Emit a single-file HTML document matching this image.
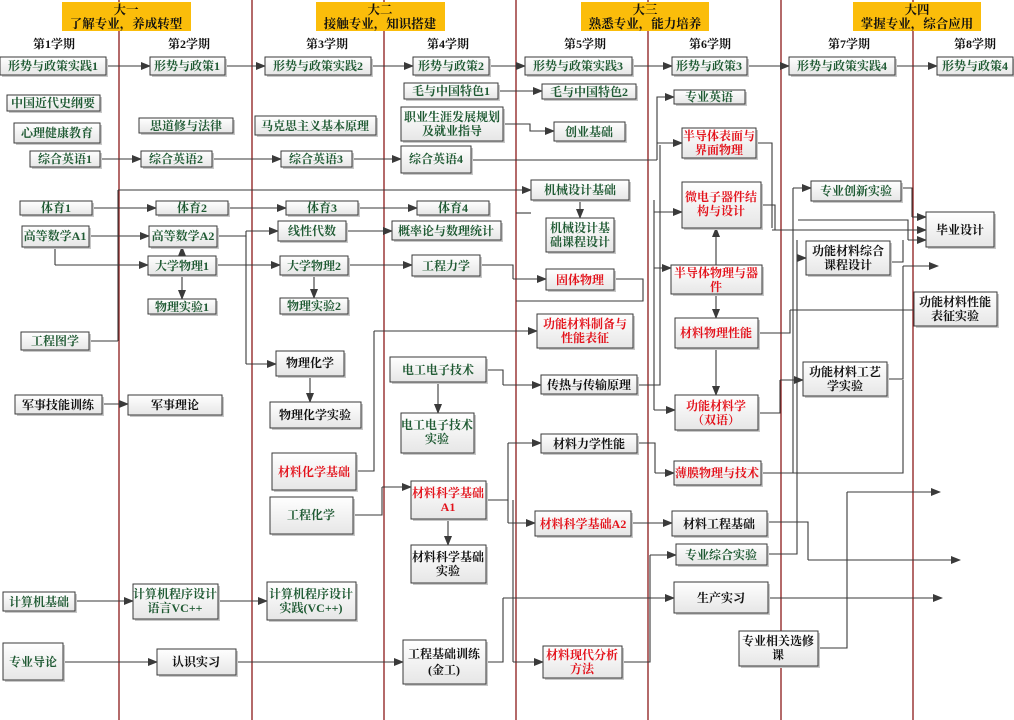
<!DOCTYPE html>
<html><head><meta charset="utf-8"><style>
html,body{margin:0;padding:0;background:#fff;width:1014px;height:720px;overflow:hidden}
svg{display:block}
text{font-family:"Liberation Serif","Noto Serif CJK SC",serif;font-weight:bold;font-size:12px;text-anchor:middle}
.g{fill:#1f5a33}.r{fill:#e3121b}.k{fill:#111}
.b{fill:url(#gr);stroke:#3a3a3a;stroke-width:1}
.sh{fill:#c8c8c8}
.l{fill:none;stroke:#3a3a3a;stroke-width:1.1}
.a{fill:none;stroke:#3a3a3a;stroke-width:1.1;marker-end:url(#ar)}
.v{stroke:#8b1a1a;stroke-width:1.3}
.h{fill:#fbbd0a}
.hd{font-size:12.5px}
</style></head><body>
<svg width="1014" height="720" viewBox="0 0 1014 720">
<defs>
<linearGradient id="gr" x1="0" y1="0" x2="0" y2="1"><stop offset="0" stop-color="#ffffff"/><stop offset="1" stop-color="#e6e6e6"/></linearGradient>
<marker id="ar" markerWidth="10" markerHeight="8" refX="9" refY="4" orient="auto" markerUnits="userSpaceOnUse"><path d="M0,0 L10,4 L0,8 Z" fill="#3a3a3a"/></marker>
</defs>
<g class="v">
<line x1="119" y1="0" x2="119" y2="720"/><line x1="252" y1="0" x2="252" y2="720"/>
<line x1="384" y1="0" x2="384" y2="720"/><line x1="516" y1="0" x2="516" y2="720"/>
<line x1="648" y1="0" x2="648" y2="720"/><line x1="781" y1="0" x2="781" y2="720"/>
<line x1="913" y1="0" x2="913" y2="720"/>
</g>
<rect class="h" x="62" y="2" width="129" height="29"/><text class="k hd" x="126" y="14">大一</text><text class="k hd" x="126" y="28">了解专业，养成转型</text>
<rect class="h" x="316" y="2" width="129" height="29"/><text class="k hd" x="380" y="14">大二</text><text class="k hd" x="380" y="28">接触专业，知识搭建</text>
<rect class="h" x="581" y="2" width="128" height="29"/><text class="k hd" x="645" y="14">大三</text><text class="k hd" x="645" y="28">熟悉专业，能力培养</text>
<rect class="h" x="853" y="2" width="128" height="29"/><text class="k hd" x="917" y="14">大四</text><text class="k hd" x="917" y="28">掌握专业，综合应用</text>
<g class="k">
<text x="54" y="48">第1学期</text><text x="189" y="48">第2学期</text><text x="327" y="48">第3学期</text><text x="448" y="48">第4学期</text>
<text x="585" y="48">第5学期</text><text x="710" y="48">第6学期</text><text x="849" y="48">第7学期</text><text x="975" y="48">第8学期</text>
</g>
<g>
<path class="a" d="M106,66H150"/><path class="a" d="M225,66H265"/><path class="a" d="M371,66H413"/><path class="a" d="M489,66H525"/>
<path class="a" d="M632,66H672"/><path class="a" d="M747,66H789"/><path class="a" d="M895,66H937"/>
<path class="a" d="M498,91H542"/>
<path class="a" d="M503,124H530V131H554"/>
<path class="a" d="M100,159H141"/><path class="a" d="M212,159H281"/><path class="a" d="M352,159H401"/>
<path class="l" d="M471,160H657"/><path class="a" d="M657,160V97H674"/><path class="a" d="M657,143H682"/>
<path class="l" d="M118,341V190"/><path class="l" d="M89,341H118"/><path class="a" d="M118,190H531"/>
<path class="a" d="M92,208H156"/><path class="a" d="M228,208H286"/><path class="a" d="M358,208H417"/>
<path class="a" d="M89,236H149"/><path class="l" d="M217,236H246V231"/><path class="a" d="M246,231H278"/><path class="a" d="M346,231H392"/>
<path class="l" d="M55,247V265"/><path class="a" d="M55,265H148"/>
<path class="a" d="M182,256V247"/><path class="a" d="M182,275V299"/>
<path class="a" d="M216,265H280"/><path class="a" d="M314,275V298"/><path class="a" d="M348,265H412"/>
<path class="l" d="M246,236V364"/><path class="a" d="M246,364H276"/><path class="a" d="M310,376V402"/>
<path class="l" d="M480,265H513V279"/><path class="a" d="M513,279H546"/>
<path class="l" d="M614,279H643V301H516"/>
<path class="a" d="M580,200V218"/>
<path class="l" d="M531,213H516"/>
<path class="a" d="M102,404H128"/>
<path class="l" d="M356,471H374V331"/><path class="a" d="M374,331H537"/>
<path class="a" d="M438,382V413"/>
<path class="l" d="M486,370H503V385"/><path class="a" d="M503,385H541"/>
<path class="l" d="M637,385H660V145"/>
<path class="l" d="M353,515H382V487"/><path class="a" d="M382,487H411"/>
<path class="a" d="M448,519V545"/>
<path class="l" d="M486,500H508V443"/><path class="a" d="M508,443H541"/>
<path class="l" d="M508,500V523"/><path class="a" d="M508,523H535"/>
<path class="l" d="M513,500V662"/><path class="a" d="M513,662H543"/>
<path class="a" d="M75,601H133"/><path class="a" d="M218,601H267"/>
<path class="a" d="M63,662H157"/><path class="a" d="M236,662H403"/>
<path class="l" d="M486,662H503V598"/><path class="a" d="M503,598H674"/>
<path class="a" d="M768,598H942"/>
<path class="l" d="M818,648H847V492"/><path class="a" d="M847,492H940"/>
<path class="l" d="M767,522H808V560"/><path class="a" d="M808,560H960"/>
<path class="l" d="M767,554H797V240"/>
<path class="l" d="M622,662H650V555"/><path class="a" d="M650,555H676"/>
<path class="l" d="M637,443H655V473"/><path class="a" d="M655,473H674"/>
<path class="a" d="M631,523H672"/>
<path class="a" d="M716,265V228"/><path class="a" d="M716,294V318"/><path class="a" d="M716,348V395"/>
<path class="l" d="M654,200V410"/><path class="a" d="M654,410H675"/>
<path class="a" d="M654,212H682"/><path class="a" d="M654,268H671"/>
<path class="l" d="M756,143H772V228"/><path class="l" d="M761,205H775V230"/><path class="a" d="M772,230H926"/>
<path class="l" d="M761,473H793V188"/>
<path class="l" d="M758,333H790V310"/><path class="a" d="M790,310H925"/>
<path class="l" d="M758,413H780V380"/><path class="a" d="M780,380H803"/>
<path class="a" d="M793,188H811"/>
<path class="l" d="M901,188H912V217"/><path class="a" d="M912,217H926"/>
<path class="l" d="M798,220H908V240"/><path class="a" d="M908,240H926"/>
<path class="a" d="M797,258H806"/>
<path class="l" d="M890,262H903V240"/><path class="a" d="M903,266H938"/>
<path class="l" d="M887,379H903V266"/>
<path class="l" d="M761,473H903V380"/>
</g>
<g id="boxes">
<rect class="sh" x="2" y="59" width="106" height="18"/><rect class="b" x="0" y="57" width="106" height="18"/><text class="g" x="53" y="70">形势与政策实践1</text>
<rect class="sh" x="152" y="59" width="75" height="18"/><rect class="b" x="150" y="57" width="75" height="18"/><text class="g" x="187" y="70">形势与政策1</text>
<rect class="sh" x="267" y="59" width="106" height="18"/><rect class="b" x="265" y="57" width="106" height="18"/><text class="g" x="318" y="70">形势与政策实践2</text>
<rect class="sh" x="415" y="59" width="76" height="18"/><rect class="b" x="413" y="57" width="76" height="18"/><text class="g" x="451" y="70">形势与政策2</text>
<rect class="sh" x="527" y="59" width="107" height="18"/><rect class="b" x="525" y="57" width="107" height="18"/><text class="g" x="578" y="70">形势与政策实践3</text>
<rect class="sh" x="674" y="59" width="75" height="18"/><rect class="b" x="672" y="57" width="75" height="18"/><text class="g" x="709" y="70">形势与政策3</text>
<rect class="sh" x="791" y="59" width="106" height="18"/><rect class="b" x="789" y="57" width="106" height="18"/><text class="g" x="842" y="70">形势与政策实践4</text>
<rect class="sh" x="939" y="59" width="75" height="18"/><rect class="b" x="937" y="57" width="76" height="18"/><text class="g" x="975" y="70">形势与政策4</text>

<rect class="sh" x="9" y="97" width="93" height="16"/><rect class="b" x="7" y="95" width="93" height="16"/><text class="g" x="53" y="107">中国近代史纲要</text>
<rect class="sh" x="16" y="125" width="86" height="20"/><rect class="b" x="14" y="123" width="86" height="20"/><text class="g" x="57" y="137">心理健康教育</text>
<rect class="sh" x="32" y="153" width="70" height="16"/><rect class="b" x="30" y="151" width="70" height="16"/><text class="g" x="65" y="163">综合英语1</text>
<rect class="sh" x="141" y="120" width="94" height="15"/><rect class="b" x="139" y="118" width="94" height="15"/><text class="g" x="186" y="130">思道修与法律</text>
<rect class="sh" x="143" y="153" width="71" height="16"/><rect class="b" x="141" y="151" width="71" height="16"/><text class="g" x="176" y="163">综合英语2</text>
<rect class="sh" x="257" y="118" width="121" height="19"/><rect class="b" x="255" y="116" width="121" height="19"/><text class="g" x="315" y="130">马克思主义基本原理</text>
<rect class="sh" x="283" y="153" width="71" height="16"/><rect class="b" x="281" y="151" width="71" height="16"/><text class="g" x="316" y="163">综合英语3</text>
<rect class="sh" x="406" y="85" width="94" height="16"/><rect class="b" x="404" y="83" width="94" height="16"/><text class="g" x="451" y="95">毛与中国特色1</text>
<rect class="sh" x="403" y="109" width="102" height="34"/><rect class="b" x="401" y="107" width="102" height="34"/><text class="g" x="452" y="121">职业生涯发展规划</text><text class="g" x="452" y="135">及就业指导</text>
<rect class="sh" x="403" y="148" width="70" height="27"/><rect class="b" x="401" y="146" width="70" height="27"/><text class="g" x="436" y="163">综合英语4</text>
<rect class="sh" x="544" y="86" width="94" height="15"/><rect class="b" x="542" y="84" width="94" height="15"/><text class="g" x="589" y="96">毛与中国特色2</text>
<rect class="sh" x="676" y="92" width="71" height="14"/><rect class="b" x="674" y="90" width="71" height="14"/><text class="g" x="709" y="101">专业英语</text>
<rect class="sh" x="556" y="124" width="71" height="19"/><rect class="b" x="554" y="122" width="71" height="19"/><text class="g" x="589" y="136">创业基础</text>
<rect class="sh" x="684" y="130" width="74" height="30"/><rect class="b" x="682" y="128" width="74" height="30"/><text class="r" x="719" y="140">半导体表面与</text><text class="r" x="719" y="154">界面物理</text>
<rect class="sh" x="533" y="182" width="98" height="20"/><rect class="b" x="531" y="180" width="98" height="20"/><text class="g" x="580" y="194">机械设计基础</text>
<rect class="sh" x="684" y="184" width="79" height="46"/><rect class="b" x="682" y="182" width="79" height="46"/><text class="r" x="721" y="201">微电子器件结</text><text class="r" x="721" y="215">构与设计</text>
<rect class="sh" x="813" y="183" width="90" height="20"/><rect class="b" x="811" y="181" width="90" height="20"/><text class="g" x="856" y="195">专业创新实验</text>
<rect class="sh" x="928" y="214" width="68" height="35"/><rect class="b" x="926" y="212" width="68" height="35"/><text class="k" x="960" y="234">毕业设计</text>

<rect class="sh" x="22" y="203" width="72" height="14"/><rect class="b" x="20" y="201" width="72" height="14"/><text class="g" x="56" y="212">体育1</text>
<rect class="sh" x="158" y="203" width="72" height="14"/><rect class="b" x="156" y="201" width="72" height="14"/><text class="g" x="192" y="212">体育2</text>
<rect class="sh" x="288" y="203" width="72" height="14"/><rect class="b" x="286" y="201" width="72" height="14"/><text class="g" x="322" y="212">体育3</text>
<rect class="sh" x="419" y="203" width="72" height="14"/><rect class="b" x="417" y="201" width="72" height="14"/><text class="g" x="453" y="212">体育4</text>
<rect class="sh" x="24" y="228" width="67" height="21"/><rect class="b" x="22" y="226" width="67" height="21"/><text class="g" x="55" y="240">高等数学A1</text>
<rect class="sh" x="151" y="228" width="68" height="21"/><rect class="b" x="149" y="226" width="68" height="21"/><text class="g" x="183" y="240">高等数学A2</text>
<rect class="sh" x="280" y="223" width="68" height="20"/><rect class="b" x="278" y="221" width="68" height="20"/><text class="g" x="312" y="235">线性代数</text>
<rect class="sh" x="394" y="223" width="109" height="19"/><rect class="b" x="392" y="221" width="109" height="19"/><text class="g" x="446" y="235">概率论与数理统计</text>
<rect class="sh" x="548" y="220" width="68" height="34"/><rect class="b" x="546" y="218" width="68" height="34"/><text class="g" x="580" y="232">机械设计基</text><text class="g" x="580" y="246">础课程设计</text>
<rect class="sh" x="150" y="258" width="68" height="19"/><rect class="b" x="148" y="256" width="68" height="19"/><text class="g" x="182" y="270">大学物理1</text>
<rect class="sh" x="282" y="258" width="68" height="19"/><rect class="b" x="280" y="256" width="68" height="19"/><text class="g" x="314" y="270">大学物理2</text>
<rect class="sh" x="414" y="257" width="68" height="21"/><rect class="b" x="412" y="255" width="68" height="21"/><text class="g" x="446" y="270">工程力学</text>
<rect class="sh" x="548" y="271" width="68" height="21"/><rect class="b" x="546" y="269" width="68" height="21"/><text class="r" x="580" y="284">固体物理</text>
<rect class="sh" x="673" y="267" width="91" height="29"/><rect class="b" x="671" y="265" width="91" height="29"/><text class="r" x="716" y="277">半导体物理与器</text><text class="r" x="716" y="291">件</text>
<rect class="sh" x="808" y="243" width="84" height="34"/><rect class="b" x="806" y="241" width="84" height="34"/><text class="k" x="848" y="255">功能材料综合</text><text class="k" x="848" y="269">课程设计</text>
<rect class="sh" x="150" y="301" width="68" height="15"/><rect class="b" x="148" y="299" width="68" height="15"/><text class="g" x="182" y="311">物理实验1</text>
<rect class="sh" x="282" y="300" width="68" height="16"/><rect class="b" x="280" y="298" width="68" height="16"/><text class="g" x="314" y="310">物理实验2</text>
<rect class="sh" x="23" y="334" width="68" height="18"/><rect class="b" x="21" y="332" width="68" height="18"/><text class="g" x="55" y="345">工程图学</text>
<rect class="sh" x="539" y="316" width="96" height="34"/><rect class="b" x="537" y="314" width="96" height="34"/><text class="r" x="585" y="328">功能材料制备与</text><text class="r" x="585" y="342">性能表征</text>
<rect class="sh" x="677" y="320" width="83" height="30"/><rect class="b" x="675" y="318" width="83" height="30"/><text class="r" x="716" y="337">材料物理性能</text>
<rect class="sh" x="916" y="294" width="83" height="34"/><rect class="b" x="914" y="292" width="83" height="34"/><text class="k" x="955" y="306">功能材料性能</text><text class="k" x="955" y="320">表征实验</text>
<rect class="sh" x="278" y="353" width="68" height="25"/><rect class="b" x="276" y="351" width="68" height="25"/><text class="k" x="310" y="367">物理化学</text>
<rect class="sh" x="392" y="359" width="96" height="25"/><rect class="b" x="390" y="357" width="96" height="25"/><text class="g" x="438" y="374">电工电子技术</text>
<rect class="sh" x="543" y="377" width="96" height="19"/><rect class="b" x="541" y="375" width="96" height="19"/><text class="k" x="589" y="389">传热与传输原理</text>
<rect class="sh" x="805" y="364" width="84" height="34"/><rect class="b" x="803" y="362" width="84" height="34"/><text class="k" x="845" y="376">功能材料工艺</text><text class="k" x="845" y="390">学实验</text>
<rect class="sh" x="17" y="397" width="87" height="19"/><rect class="b" x="15" y="395" width="87" height="19"/><text class="k" x="58" y="409">军事技能训练</text>
<rect class="sh" x="130" y="397" width="94" height="20"/><rect class="b" x="128" y="395" width="94" height="20"/><text class="k" x="175" y="409">军事理论</text>
<rect class="sh" x="272" y="404" width="91" height="26"/><rect class="b" x="270" y="402" width="91" height="26"/><text class="k" x="315" y="419">物理化学实验</text>
<rect class="sh" x="403" y="415" width="73" height="40"/><rect class="b" x="401" y="413" width="73" height="40"/><text class="g" x="437" y="429">电工电子技术</text><text class="g" x="437" y="443">实验</text>
<rect class="sh" x="677" y="397" width="83" height="35"/><rect class="b" x="675" y="395" width="83" height="35"/><text class="r" x="716" y="410">功能材料学</text><text class="r" x="716" y="424">（双语）</text>
<rect class="sh" x="543" y="436" width="96" height="19"/><rect class="b" x="541" y="434" width="96" height="19"/><text class="k" x="589" y="448">材料力学性能</text>
<rect class="sh" x="676" y="463" width="87" height="24"/><rect class="b" x="674" y="461" width="87" height="24"/><text class="r" x="717" y="477">薄膜物理与技术</text>
<rect class="sh" x="274" y="455" width="84" height="37"/><rect class="b" x="272" y="453" width="84" height="37"/><text class="r" x="314" y="476">材料化学基础</text>
<rect class="sh" x="272" y="499" width="83" height="37"/><rect class="b" x="270" y="497" width="83" height="37"/><text class="g" x="311" y="519">工程化学</text>
<rect class="sh" x="413" y="483" width="75" height="38"/><rect class="b" x="411" y="481" width="75" height="38"/><text class="r" x="448" y="497">材料科学基础</text><text class="r" x="448" y="511">A1</text>
<rect class="sh" x="537" y="513" width="96" height="25"/><rect class="b" x="535" y="511" width="96" height="25"/><text class="r" x="583" y="528">材料科学基础A2</text>
<rect class="sh" x="674" y="513" width="95" height="25"/><rect class="b" x="672" y="511" width="95" height="25"/><text class="k" x="719" y="528">材料工程基础</text>
<rect class="sh" x="678" y="546" width="91" height="21"/><rect class="b" x="676" y="544" width="91" height="21"/><text class="g" x="721" y="559">专业综合实验</text>
<rect class="sh" x="413" y="547" width="75" height="38"/><rect class="b" x="411" y="545" width="75" height="38"/><text class="k" x="448" y="561">材料科学基础</text><text class="k" x="448" y="575">实验</text>
<rect class="sh" x="5" y="594" width="72" height="19"/><rect class="b" x="3" y="592" width="72" height="19"/><text class="g" x="39" y="606">计算机基础</text>
<rect class="sh" x="135" y="586" width="85" height="35"/><rect class="b" x="133" y="584" width="85" height="35"/><text class="g" x="175" y="598">计算机程序设计</text><text class="g" x="175" y="612">语言VC++</text>
<rect class="sh" x="269" y="584" width="89" height="38"/><rect class="b" x="267" y="582" width="89" height="38"/><text class="g" x="311" y="598">计算机程序设计</text><text class="g" x="311" y="612">实践(VC++)</text>
<rect class="sh" x="676" y="584" width="94" height="31"/><rect class="b" x="674" y="582" width="94" height="31"/><text class="k" x="721" y="602">生产实习</text>
<rect class="sh" x="741" y="633" width="79" height="35"/><rect class="b" x="739" y="631" width="79" height="35"/><text class="k" x="778" y="645">专业相关选修</text><text class="k" x="778" y="659">课</text>
<rect class="sh" x="5" y="645" width="60" height="37"/><rect class="b" x="3" y="643" width="60" height="37"/><text class="g" x="33" y="666">专业导论</text>
<rect class="sh" x="159" y="651" width="79" height="26"/><rect class="b" x="157" y="649" width="79" height="26"/><text class="k" x="196" y="666">认识实习</text>
<rect class="sh" x="405" y="642" width="83" height="44"/><rect class="b" x="403" y="640" width="83" height="44"/><text class="k" x="444" y="658">工程基础训练</text><text class="k" x="444" y="674">(金工)</text>
<rect class="sh" x="545" y="648" width="79" height="32"/><rect class="b" x="543" y="646" width="79" height="32"/><text class="r" x="582" y="659">材料现代分析</text><text class="r" x="582" y="673">方法</text>
</g>
</svg>
</body></html>
